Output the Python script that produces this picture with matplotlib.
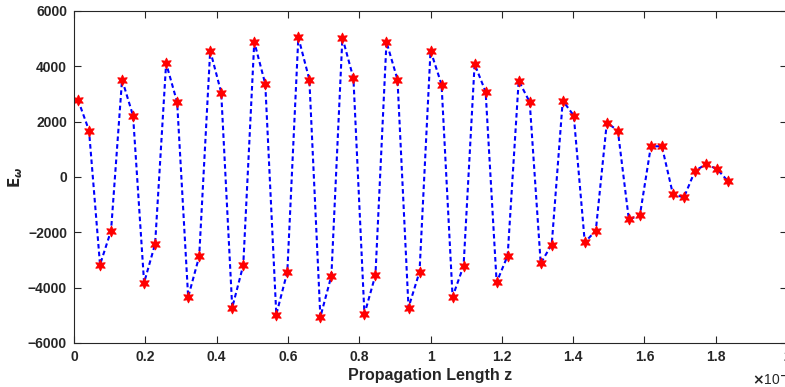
import matplotlib as mpl
import matplotlib.pyplot as plt
import numpy as np

plt.rcParams['font.family'] = ['Liberation Sans', 'DejaVu Sans']
plt.rcParams['font.weight'] = 'bold'

# z sampling grid (units of 1e-4), 60 evenly spaced samples
z_first = 0.0112
z_last = 1.8345
n_points = 60

E_w = [
  2790, 1680, -3170, -1940, 3520, 2210, -3820, -2420, 4110, 2700,
  -4340, -2870, 4570, 3050, -4720, -3190, 4880, 3360, -4970, -3430,
  5050, 3520, -5060, -3570, 5040, 3570, -4960, -3540, 4880, 3520,
  -4720, -3430, 4570, 3340, -4330, -3210, 4080, 3080, -3810, -2840,
  3480, 2710, -3120, -2440, 2760, 2220, -2360, -1940, 1960, 1680,
  -1530, -1390, 1110, 1110, -620, -740, 220, 460, 290, -150,
]

x_ticks = [0, 0.2, 0.4, 0.6, 0.8, 1, 1.2, 1.4, 1.6, 1.8, 2]
x_tick_labels = ["0", "0.2", "0.4", "0.6", "0.8", "1", "1.2", "1.4", "1.6", "1.8", "2"]
y_ticks = [-6000, -4000, -2000, 0, 2000, 4000, 6000]

z = np.linspace(z_first, z_last, n_points)

W, H = 785, 387
fig = plt.figure(figsize=(W / 100, H / 100), dpi=100)
ax = fig.add_axes([74 / W, 44 / H, 713 / W, 332 / H])

axis_color = "#262626"
ax.plot(z, E_w, linestyle="--", color="#0000ff", linewidth=1.5, dashes=(2.2, 1.5),
        marker=(6, 1, 0), markersize=8, markerfacecolor="#ff0000", markeredgecolor="#ff0000",
        markeredgewidth=0.6)

ax.set_xlim(0, 2)
ax.set_ylim(-6000, 6000)
ax.set_xticks(x_ticks)
ax.set_xticklabels(x_tick_labels)
ax.set_yticks(y_ticks)
ax.tick_params(direction="in", top=True, right=True, length=5, width=0.8,
               labelsize=10, colors=axis_color, pad=5)
for lbl in ax.get_xticklabels() + ax.get_yticklabels():
  lbl.set_fontweight("bold")
for sp in ax.spines.values():
  sp.set_color(axis_color)
  sp.set_linewidth(0.8)

ax.set_xlabel("Propagation Length z", fontsize=11.5, fontweight="bold", color=axis_color, labelpad=3)
ax.set_ylabel(r"$\mathbf{E}_{\omega}$", fontsize=11, color=axis_color, labelpad=2)

fig.text(752 / W, 1 - 379 / H, r"$\times$10$^{-4}$", fontsize=10, fontweight="normal",
         color=axis_color, ha="left", va="center")

fig.savefig("out.png", dpi=100)
